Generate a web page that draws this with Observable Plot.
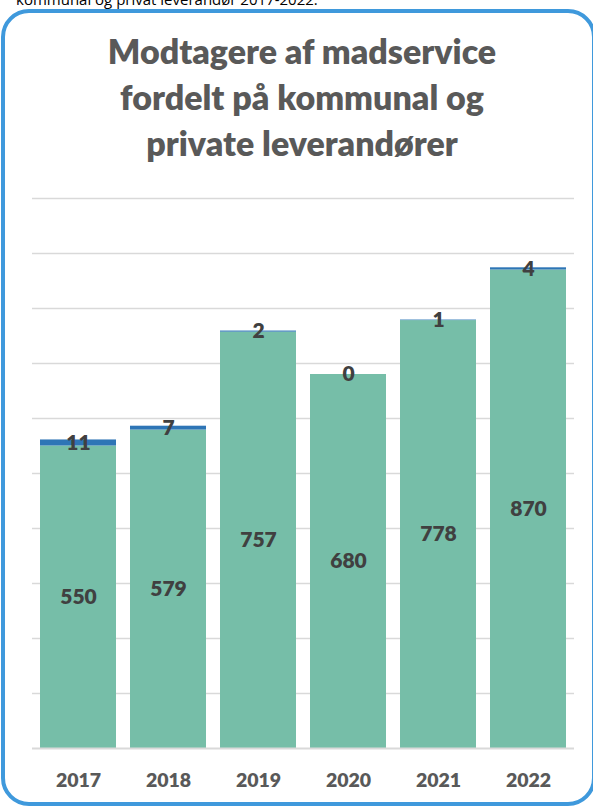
<!DOCTYPE html>
<html><head><meta charset="utf-8">
<script src="https://cdn.jsdelivr.net/npm/d3@7"></script>
<script src="https://cdn.jsdelivr.net/npm/@observablehq/plot@0.6"></script>
<style>
body{margin:0;width:593px;height:807px;overflow:hidden;position:relative;background:#fff;font-family:Lato,sans-serif}
#top{position:absolute;left:16px;top:-11px;font:15px "Open Sans",sans-serif;color:#000;white-space:nowrap}
#box{position:absolute;left:1px;top:9px;width:595px;height:797px;border:4px solid #3f99dc;border-radius:28px;box-sizing:border-box}
#title{position:absolute;left:0;width:604px;top:28px;text-align:center;font:800 34px Lato,sans-serif;color:#595959;line-height:46px}
#chart{position:absolute;left:0;top:170px}
</style></head><body>
<div id="top">kommunal og privat leverandør 2017-2022.</div>
<div id="box"></div>
<div id="title">Modtagere af madservice<br>fordelt på kommunal og<br>private leverandører</div>
<div id="chart"></div>
<script>
const years = ["2017","2018","2019","2020","2021","2022"];
const kommunal = [550, 579, 757, 680, 778, 870];
const privat = [11, 7, 2, 0, 1, 4];
const types = ["Kommunal", "Privat"];

const rows = years.flatMap((y, i) => [
  {year: y, type: "Kommunal", value: kommunal[i], mid: kommunal[i] / 2},
  {year: y, type: "Privat", value: privat[i], mid: kommunal[i] + privat[i] / 2}
]);

const chart = Plot.plot({
  width: 593, height: 630,
  marginTop: 28, marginBottom: 52, marginLeft: 32, marginRight: 19,
  style: {fontFamily: "Lato, sans-serif", background: "transparent"},
  x: {domain: years, paddingInner: 0.16, paddingOuter: 0.08, label: null},
  y: {domain: [0, 1000], axis: null},
  color: {domain: types, range: ["#76bea8", "#2e75b6"]},
  marks: [
    Plot.ruleY(d3.range(100, 1001, 100), {stroke: "#d9d9d9", strokeWidth: 1.5}),
    Plot.barY(rows, {x: "year", y: "value", fill: "type", order: types}),
    Plot.ruleY([0], {stroke: "#d9d9d9", strokeWidth: 2}),
    Plot.text(rows, {x: "year", y: "mid", text: "value", fill: "#404040", fontSize: 21, fontWeight: 800}),
    Plot.axisX({tickSize: 0, tickPadding: 25, fontSize: 19.5, fontWeight: 800, fill: "#595959"})
  ]
});
document.getElementById("chart").appendChild(chart);
</script>
</body></html>
